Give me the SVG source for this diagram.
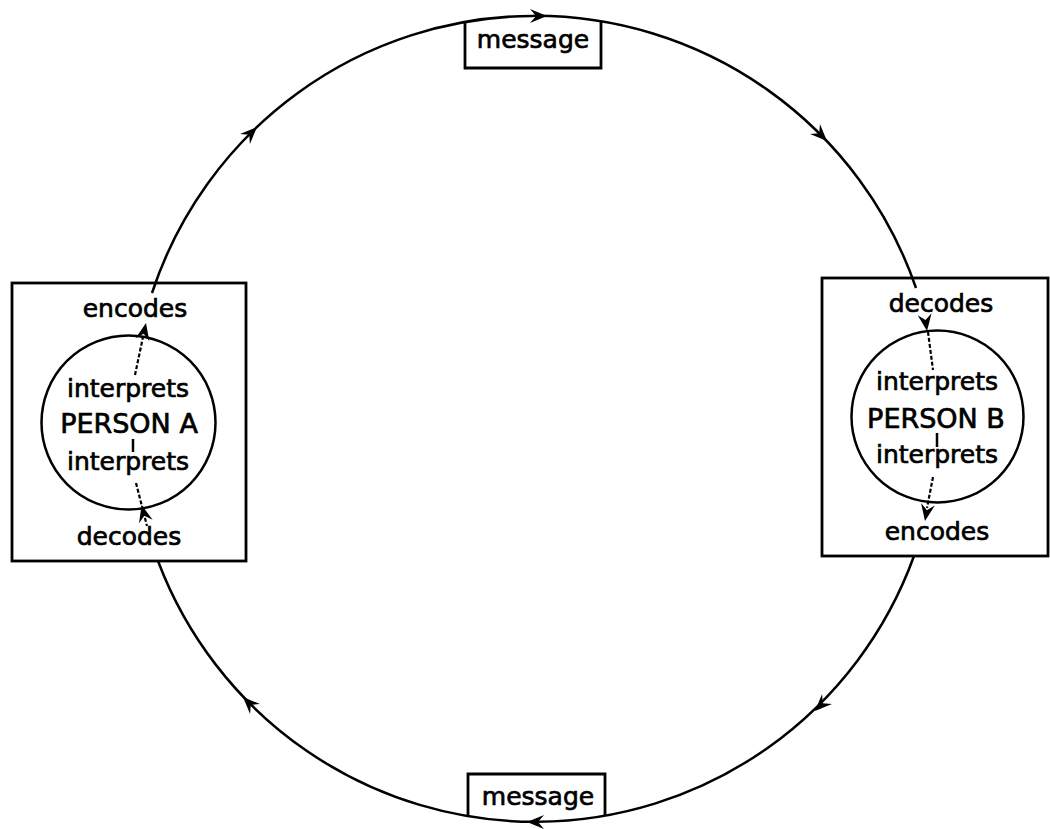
<svg xmlns="http://www.w3.org/2000/svg" xmlns:xlink="http://www.w3.org/1999/xlink" width="1050" height="829" viewBox="0 0 1050 829">
<style>
.ln{fill:none;stroke:#000;stroke-width:2.5}
.box{fill:none;stroke:#000;stroke-width:2.8}
.dash{fill:none;stroke:#000;stroke-width:2.2;stroke-dasharray:4 2}
.t{font-family:"DejaVu Sans","Liberation Sans",sans-serif;font-size:25px;fill:#000;stroke:#000;stroke-width:0.7;text-anchor:middle}
.big{font-size:27px}
.ah{fill:#000}
</style>
<defs>
<path id="ah" d="M0,0 L-17,-7 L-11,0 L-17,7 Z"/>
</defs>
<rect width="1050" height="829" fill="#fff"/>
<g id="connectors">
<path class="ln" d="M152,293 A403,403 0 0 1 916,288"/>
<path class="ln" d="M914,556 A403,403 0 0 1 158,561"/>
<use class="ah" href="#ah" transform="translate(547,16) rotate(0)"/>
<use class="ah" href="#ah" transform="translate(827,141) rotate(45)"/>
<use class="ah" href="#ah" transform="translate(815,711) rotate(135)"/>
<use class="ah" href="#ah" transform="translate(527,822) rotate(180)"/>
<use class="ah" href="#ah" transform="translate(243,697) rotate(225)"/>
<use class="ah" href="#ah" transform="translate(257,127) rotate(315)"/>
<path class="dash" d="M135,375 L143,337"/>
<use class="ah" href="#ah" transform="translate(146,323) rotate(-78)"/>
<path class="ln" d="M133,439 L133,452"/>
<path class="dash" d="M136,483 L147,526"/>
<use class="ah" href="#ah" transform="translate(141.6,505) rotate(-104.4)"/>
<path class="dash" d="M928,332 L933,370"/>
<use class="ah" href="#ah" transform="translate(927,331) rotate(82)"/>
<path class="ln" d="M937,433 L937,447"/>
<path class="dash" d="M933,477 L927,508"/>
<use class="ah" href="#ah" transform="translate(925,521) rotate(100)"/>
</g>
<g id="msg-top">
<path class="box" d="M465,22 L465,68 L601,68 L601,21"/>
<text class="t" x="533" y="48">message</text>
</g>
<g id="msg-bottom">
<path class="box" d="M468,816 L468,774 L605,774 L605,816"/>
<text class="t" x="538" y="805">message</text>
</g>
<g id="personA">
<rect class="box" x="12" y="283" width="234" height="278"/>
<circle class="ln" cx="128.5" cy="422.5" r="87"/>
<text class="t" x="135" y="317">encodes</text>
<text class="t" x="128" y="397">interprets</text>
<text class="t big" x="129" y="433">PERSON A</text>
<text class="t" x="128" y="470">interprets</text>
<text class="t" x="129" y="545">decodes</text>
</g>
<g id="personB">
<rect class="box" x="822" y="278" width="226" height="278"/>
<circle class="ln" cx="937.5" cy="416.5" r="86"/>
<text class="t" x="941" y="312">decodes</text>
<text class="t" x="937" y="390">interprets</text>
<text class="t big" x="936" y="428">PERSON B</text>
<text class="t" x="937" y="463">interprets</text>
<text class="t" x="937" y="540">encodes</text>
</g>
</svg>
